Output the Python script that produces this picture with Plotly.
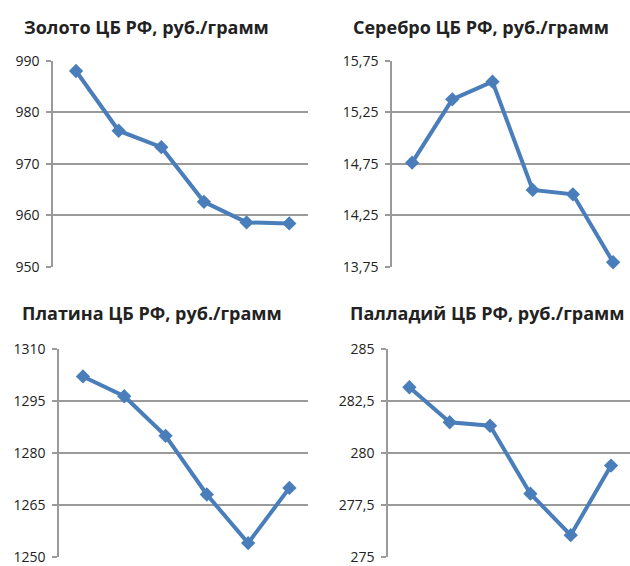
import plotly.graph_objects as go

points = [0, 1, 2, 3, 4, 5]

gold = [988.0, 976.4, 973.2, 962.6, 958.6, 958.4]
silver = [14.76, 15.375, 15.546, 14.495, 14.453, 13.793]
platinum = [1302.0, 1296.3, 1284.9, 1268.0, 1254.0, 1269.9]
palladium = [283.15, 281.47, 281.3, 278.04, 276.05, 279.39]

titles = [
    "Золото ЦБ РФ, руб./грамм",
    "Серебро ЦБ РФ, руб./грамм",
    "Платина ЦБ РФ, руб./грамм",
    "Палладий ЦБ РФ, руб./грамм",
]

gold_ticks = [950, 960, 970, 980, 990]
gold_labels = ["950", "960", "970", "980", "990"]
silver_ticks = [13.75, 14.25, 14.75, 15.25, 15.75]
silver_labels = ["13,75", "14,25", "14,75", "15,25", "15,75"]
platinum_ticks = [1250, 1265, 1280, 1295, 1310]
platinum_labels = ["1250", "1265", "1280", "1295", "1310"]
palladium_ticks = [275, 277.5, 280, 282.5, 285]
palladium_labels = ["275", "277,5", "280", "282,5", "285"]

W, H = 630, 566
LINE = "#4a7ebb"
GRID = "#9a9a9a"


def fx(px):
    return px / W


def fy(py):
    return 1 - py / H


panels = [
    (gold, gold_ticks, gold_labels, (53, 308), (60.7, 266.7), (-0.54, 5.44)),
    (silver, silver_ticks, silver_labels, (392, 630), (60.7, 266.7), (-0.5, 5.42)),
    (platinum, platinum_ticks, platinum_labels, (59, 308), (348.7, 557), (-0.58, 5.45)),
    (palladium, palladium_ticks, palladium_labels, (388, 630), (348.7, 557), (-0.53, 5.47)),
]

fig = go.Figure()
for i, (vals, ticks, labels, xp, yp, xr) in enumerate(panels, start=1):
    xa = "x" if i == 1 else f"x{i}"
    ya = "y" if i == 1 else f"y{i}"
    fig.add_trace(go.Scatter(
        x=points, y=vals, xaxis=xa, yaxis=ya, mode="lines+markers",
        line=dict(color=LINE, width=4),
        marker=dict(symbol="diamond", size=11, color=LINE),
        showlegend=False, cliponaxis=False,
    ))
    xkey = "xaxis" if i == 1 else f"xaxis{i}"
    ykey = "yaxis" if i == 1 else f"yaxis{i}"
    fig.layout[xkey] = dict(
        domain=[fx(xp[0]), min(1.0, fx(xp[1]))], range=list(xr), anchor=ya,
        showgrid=False, zeroline=False, showticklabels=False, showline=False,
        ticks="", automargin=False,
    )
    fig.layout[ykey] = dict(
        domain=[fy(yp[1]), fy(yp[0])], range=[ticks[0], ticks[-1]],
        anchor=xa, tickvals=ticks, ticktext=labels, automargin=False,
        showgrid=True, gridcolor=GRID, gridwidth=1.5,
        zeroline=False, showline=True, linecolor=GRID, linewidth=1.5,
        ticks="outside", ticklen=5, tickcolor=GRID, tickwidth=1.5,
        tickfont=dict(family="Open Sans, Noto Sans, sans-serif", size=14, color="#222222"),
        ticklabelstandoff=4,
    )

title_pos = [(146, 27), (481, 27), (152, 313), (487, 313)]
for t, (cx, cy) in zip(titles, title_pos):
    fig.add_annotation(
        text=f"<b>{t}</b>", x=fx(cx), y=fy(cy), xref="paper", yref="paper",
        xanchor="center", yanchor="middle", showarrow=False,
        font=dict(family="Open Sans, Noto Sans, sans-serif", size=18, color="#222222"),
    )

fig.update_layout(
    width=W, height=H, margin=dict(l=0, r=0, t=0, b=0, autoexpand=False),
    paper_bgcolor="white", plot_bgcolor="white",
)

fig.write_html(
    "out.html",
    config={"displayModeBar": False},
    post_script="document.body.style.margin='0';document.body.style.overflow='hidden';",
)
